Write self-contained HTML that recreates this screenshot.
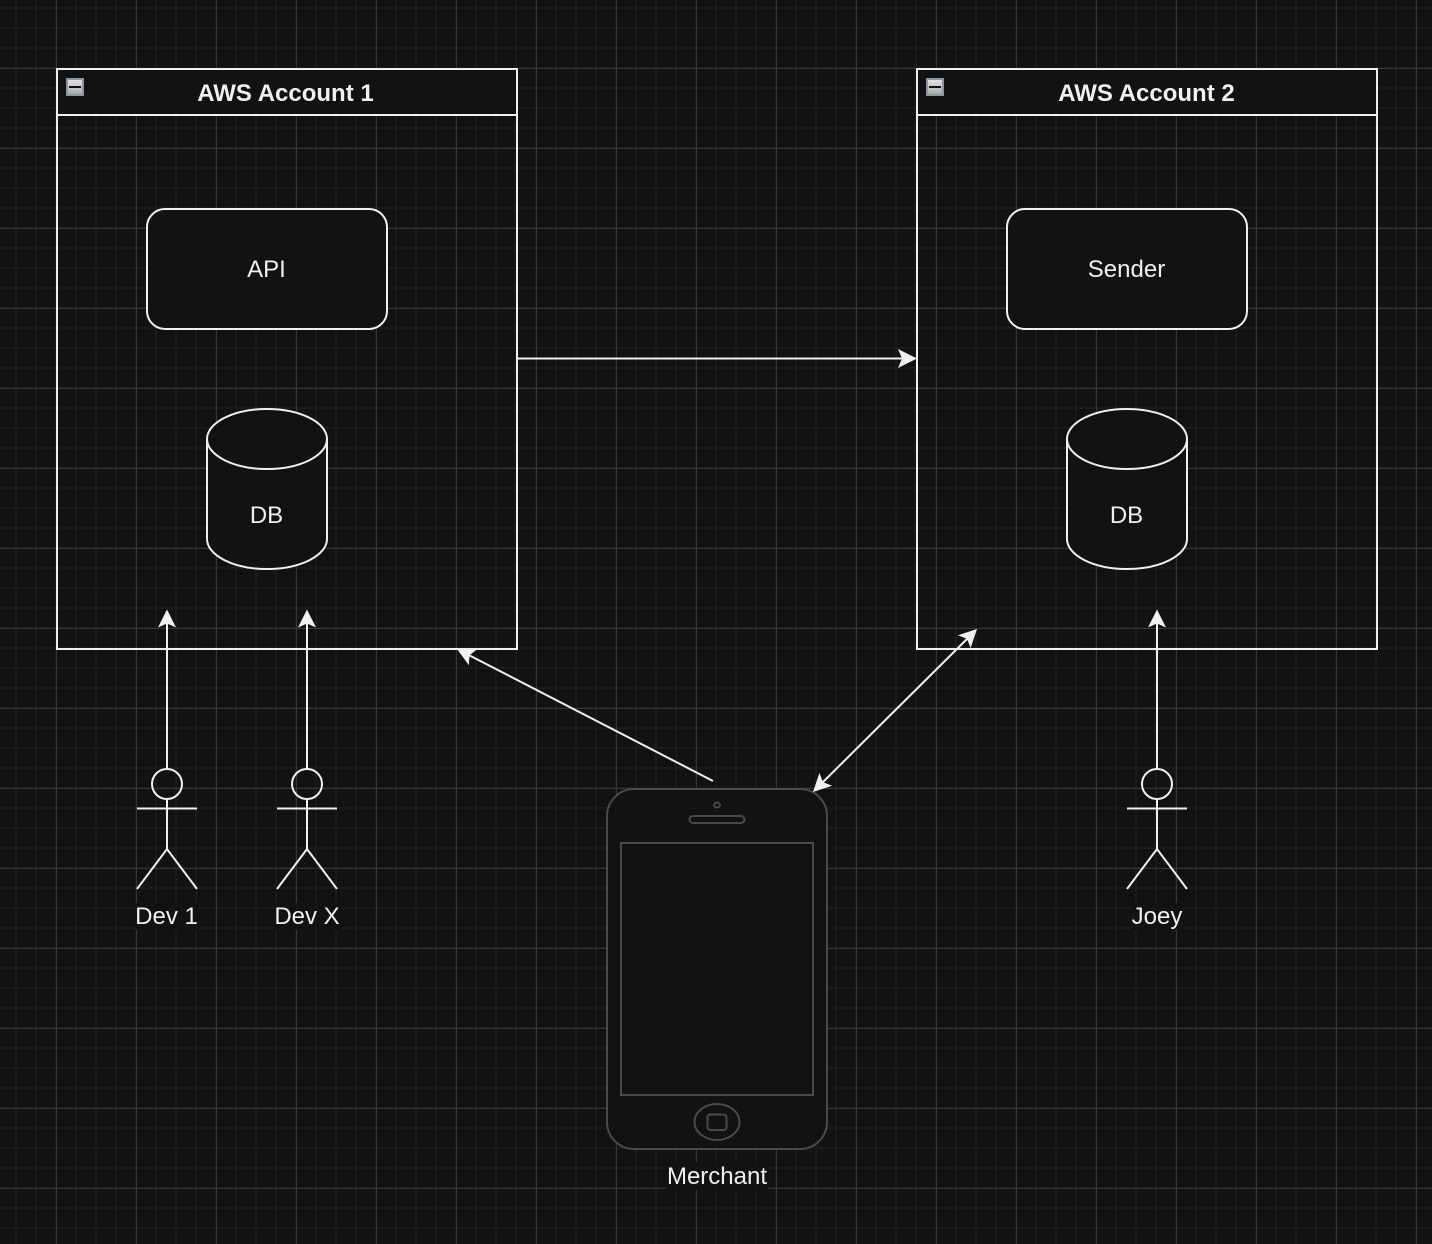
<!DOCTYPE html>
<html>
<head>
<meta charset="utf-8">
<title>AWS Accounts Diagram</title>
<style>
html,body{margin:0;padding:0;background:#121212;}
body{width:1432px;height:1244px;overflow:hidden;position:relative;
background-color:#121212;
background-image:
linear-gradient(to right,#363636 1px,transparent 1px),
linear-gradient(to bottom,#363636 1px,transparent 1px),
linear-gradient(to right,#1b1b1b 2px,transparent 2px),
linear-gradient(to bottom,#1b1b1b 2px,transparent 2px);
background-size:80px 80px,80px 80px,20px 20px,20px 20px;
background-position:56px 0,0 68px,15px 0,0 7px;}
svg{position:absolute;left:0;top:0;}
text{font-family:"Liberation Sans",sans-serif;font-size:24px;fill:#f0f0f0;text-anchor:middle;}
.b{font-weight:bold;}
.s{fill:none;stroke:#f0f0f0;stroke-width:2;}
.f{fill:#121212;stroke:#f0f0f0;stroke-width:2;}
.p{fill:none;stroke:#4a4a4a;stroke-width:2;}
.h{fill:#f0f0f0;}
.bg{fill:#121212;}
</style>
</head>
<body>
<svg width="1432" height="1244" viewBox="0 0 1432 1244" xmlns="http://www.w3.org/2000/svg">
<defs>
<linearGradient id="ic" x1="0" y1="0" x2="0" y2="1"><stop offset="0" stop-color="#e6e6e6"/><stop offset="1" stop-color="#a8a8a8"/></linearGradient>
</defs>

<!-- AWS Account 1 -->
<rect x="57" y="69" width="460" height="46" class="f"/>
<rect x="57" y="69" width="460" height="580" class="s"/>
<text x="285.5" y="101" class="b">AWS Account 1</text>
<rect x="67" y="79" width="16" height="16" fill="url(#ic)" stroke="#8b95a5" stroke-width="2"/>
<rect x="69" y="86" width="12" height="2" fill="#111"/>

<!-- AWS Account 2 -->
<rect x="917" y="69" width="460" height="46" class="f"/>
<rect x="917" y="69" width="460" height="580" class="s"/>
<text x="1146.5" y="101" class="b">AWS Account 2</text>
<rect x="927" y="79" width="16" height="16" fill="url(#ic)" stroke="#8b95a5" stroke-width="2"/>
<rect x="929" y="86" width="12" height="2" fill="#111"/>

<!-- Boxes -->
<rect x="147" y="209" width="240" height="120" rx="18" ry="18" class="f"/>
<text x="266.5" y="277">API</text>
<rect x="1007" y="209" width="240" height="120" rx="18" ry="18" class="f"/>
<text x="1126.5" y="277">Sender</text>

<!-- DB cylinders -->
<path d="M207 439A60 30 0 0 1 327 439V539A60 30 0 0 1 207 539Z" class="f"/>
<path d="M207 439A60 30 0 0 0 327 439" class="s"/>
<text x="266.5" y="523">DB</text>
<path d="M1067 439A60 30 0 0 1 1187 439V539A60 30 0 0 1 1067 539Z" class="f"/>
<path d="M1067 439A60 30 0 0 0 1187 439" class="s"/>
<text x="1126.5" y="523">DB</text>

<!-- Phone -->
<rect x="607" y="789" width="220" height="360" rx="27" ry="27" fill="#121212" stroke="#4a4a4a" stroke-width="2"/>
<rect x="621" y="843" width="192" height="252" class="p"/>
<ellipse cx="717" cy="805" rx="3" ry="2.5" class="p" stroke-width="1.5"/>
<rect x="689.5" y="816" width="55" height="7" rx="3.5" ry="3.5" class="p"/>
<ellipse cx="717" cy="1122" rx="22.5" ry="18" class="p"/>
<rect x="707.5" y="1114.5" width="19" height="15.5" rx="3" ry="3" class="p"/>
<rect x="666" y="1162" width="102" height="28" class="bg"/>
<text x="717" y="1184">Merchant</text>

<!-- Connectors -->
<line x1="517" y1="358.5" x2="906" y2="358.5" class="s"/>
<polygon class="h" points="917,358.5 898,349 902,358.5 898,368"/>
<line x1="167" y1="769" x2="167" y2="621" class="s"/>
<polygon class="h" points="167,609.5 158,627.5 167,623.5 176,627.5"/>
<line x1="307" y1="769" x2="307" y2="621" class="s"/>
<polygon class="h" points="307,609.5 298,627.5 307,623.5 316,627.5"/>
<line x1="1157" y1="769" x2="1157" y2="621" class="s"/>
<polygon class="h" points="1157,609.5 1148,627.5 1157,623.5 1166,627.5"/>
<line x1="713" y1="781" x2="466" y2="653.6" class="s"/>
<g transform="translate(457,649) rotate(207.27)"><polygon class="h" points="0,0 -18,-9 -14,0 -18,9"/></g>
<line x1="820" y1="785" x2="970" y2="636" class="s"/>
<g transform="translate(977,629) rotate(-44.8)"><polygon class="h" points="0,0 -18,-9 -14,0 -18,9"/></g>
<g transform="translate(813,792) rotate(135.2)"><polygon class="h" points="0,0 -18,-9 -14,0 -18,9"/></g>

<!-- Actors -->
<circle cx="167" cy="784" r="15" class="s"/>
<path d="M167 799V849M137 808.5H197M137 889L167 849L197 889" class="s"/>
<circle cx="307" cy="784" r="15" class="s"/>
<path d="M307 799V849M277 808.5H337M277 889L307 849L337 889" class="s"/>
<circle cx="1157" cy="784" r="15" class="s"/>
<path d="M1157 799V849M1127 808.5H1187M1127 889L1157 849L1187 889" class="s"/>

<rect x="135" y="903" width="63" height="27" class="bg"/>
<text x="166.5" y="924">Dev 1</text>
<rect x="274" y="903" width="67" height="27" class="bg"/>
<text x="307" y="924">Dev X</text>
<rect x="1131" y="903" width="52" height="27" class="bg"/>
<text x="1157" y="924">Joey</text>
</svg>
</body>
</html>
